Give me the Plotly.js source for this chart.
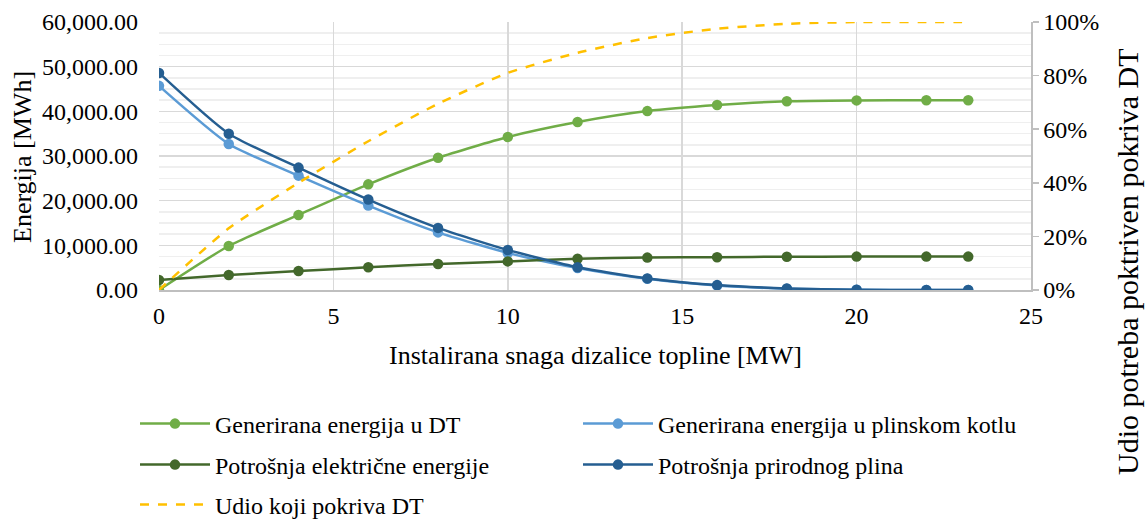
<!DOCTYPE html>
<html>
<head>
<meta charset="utf-8">
<script src="https://cdn.plot.ly/plotly-3.0.1.min.js"></script>
<style>html,body{margin:0;padding:0;background:#fff;}#chart{width:1145px;height:519px;}</style>
</head>
<body>
<div id="chart"></div>
<script>
// Installed heat pump capacity [MW]
const snaga = [0, 2, 4, 6, 8, 10, 12, 14, 16, 18, 20, 22, 23.2];
// Energy series [MWh]
const generiranaDT = [0, 9850, 16800, 23650, 29600, 34250, 37600, 40050, 41400, 42250, 42450, 42500, 42500];
const generiranaKotao = [45700, 32700, 25600, 18900, 12900, 8300, 4900, 2500, 1000, 300, 50, 0, 0];
const potrosnjaStruja = [2240, 3360, 4250, 5080, 5820, 6400, 7000, 7250, 7350, 7450, 7480, 7480, 7480];
const potrosnjaPlin = [48600, 35000, 27400, 20250, 13900, 8950, 5100, 2600, 1100, 350, 50, 0, 0];
// Share covered by heat pump [%]
const udioDT = [0, 23, 40, 55.5, 69.5, 81, 88.5, 94, 97.5, 99.3, 100, 100, 100];

const names = [
  'Generirana energija u DT',
  'Generirana energija u plinskom kotlu',
  'Potrošnja električne energije',
  'Potrošnja prirodnog plina',
  'Udio koji pokriva DT'
];
const colors = ['#70ad47', '#5b9bd5', '#43682b', '#255e91', '#ffc000'];
const leftTitle = 'Energija [MWh]';
const rightTitle = 'Udio potreba poktriven pokriva DT';
const xTitle = 'Instalirana snaga dizalice topline [MW]';

const FONT = "'Liberation Serif', 'Times New Roman', Times, serif";
const LFONT = 'Liberation Serif';

function lineTrace(y, i, legend) {
  return {
    x: snaga, y: y, name: names[i], type: 'scatter', mode: 'lines+markers',
    line: {color: colors[i], width: 2.5, shape: 'spline', smoothing: 0.6},
    marker: {color: colors[i], size: 10.5},
    legend: legend
  };
}

const traces = [
  lineTrace(generiranaDT, 0, 'legend'),
  lineTrace(generiranaKotao, 1, 'legend'),
  lineTrace(potrosnjaStruja, 2, 'legend2'),
  lineTrace(potrosnjaPlin, 3, 'legend2'),
  {
    x: snaga, y: udioDT, name: names[4], type: 'scatter', mode: 'lines', yaxis: 'y2',
    line: {color: colors[4], width: 2.5, dash: 'dash', shape: 'spline', smoothing: 0.6},
    legend: 'legend3'
  }
];

function legendRow(ypix) {
  return {
    orientation: 'h', x: (135 - 159) / 872, xanchor: 'left',
    y: (290 - ypix) / 268, yanchor: 'middle',
    entrywidth: 358, entrywidthmode: 'pixels', itemwidth: 70,
    font: {family: LFONT, size: 24, color: '#000'},
    bgcolor: 'rgba(0,0,0,0)', borderwidth: 0
  };
}

const layout = {
  width: 1145, height: 519,
  margin: {l: 159, r: 114, t: 22, b: 229, autoexpand: false},
  paper_bgcolor: '#fff', plot_bgcolor: '#fff',
  font: {family: FONT, size: 22, color: '#000'},
  showlegend: true,
  xaxis: {
    range: [0, 25], dtick: 5, tick0: 0,
    showgrid: true, gridcolor: '#d9d9d9', gridwidth: 1.5,
    zeroline: false, showline: true, linecolor: '#bfbfbf', linewidth: 1.5,
    ticks: '', ticklabelstandoff: 4,
    tickfont: {family: FONT, size: 24, color: '#000'}
  },
  yaxis: {
    range: [0, 60000], dtick: 10000, tick0: 0, tickformat: ',.2f',
    showgrid: true, gridcolor: '#d9d9d9', gridwidth: 1.5,
    minor: {dtick: 2500, showgrid: true, gridcolor: '#efefef', gridwidth: 1.5},
    zeroline: false, showline: false, ticks: '', ticklabelstandoff: 20,
    tickfont: {family: FONT, size: 24, color: '#000'}
  },
  yaxis2: {
    overlaying: 'y', side: 'right', range: [0, 100], dtick: 20, tick0: 0, ticksuffix: '%',
    showgrid: false, zeroline: false, showline: true, linecolor: '#bfbfbf', linewidth: 1.5,
    ticks: 'outside', ticklen: 6, tickcolor: '#bfbfbf', tickwidth: 1.5,
    tickfont: {family: FONT, size: 24, color: '#000'}
  },
  annotations: [
    {
      text: rightTitle, xref: 'paper', yref: 'paper',
      x: (1127 - 159) / 872, y: (290 - 262) / 268, xanchor: 'center', yanchor: 'middle',
      textangle: -90, showarrow: false, font: {family: FONT, size: 30, color: '#000'}
    },
    {
      text: leftTitle, xref: 'paper', yref: 'paper',
      x: (22 - 159) / 872, y: (290 - 157) / 268, xanchor: 'center', yanchor: 'middle',
      textangle: -90, showarrow: false, font: {family: FONT, size: 26, color: '#000'}
    },
    {
      text: xTitle, xref: 'paper', yref: 'paper',
      x: 0.5, y: (290 - 355) / 268, xanchor: 'center', yanchor: 'middle',
      showarrow: false, font: {family: FONT, size: 26, color: '#000'}
    }
  ],
  legend: legendRow(424),
  legend2: legendRow(465),
  legend3: legendRow(505)
};

Plotly.newPlot('chart', traces, layout, {displayModeBar: false, staticPlot: true});
</script>
</body>
</html>
